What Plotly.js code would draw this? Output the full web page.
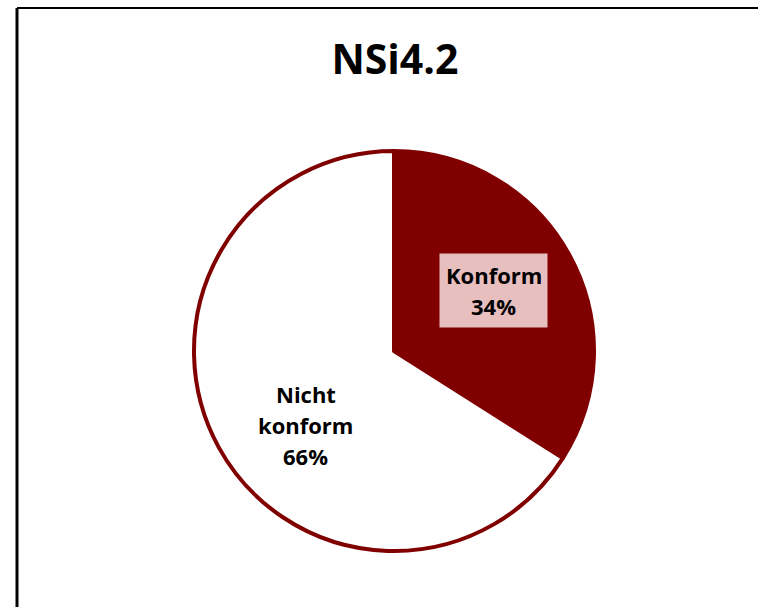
<!DOCTYPE html>
<html>
<head>
<meta charset="utf-8">
<script src="https://cdn.plot.ly/plotly-3.0.1.min.js"></script>
<style>html,body{margin:0;padding:0;background:#fff;}#chart{width:758px;height:607px;}</style>
</head>
<body>
<div id="chart"></div>
<script>
const categories = ['Konform', 'Nicht konform'];
const labelLines = [['Konform'], ['Nicht', 'konform']];
const values = [34, 66];
const sliceColors = ['#800000', '#ffffff'];
const labelBg = ['#e8bfbf', null];
const labelRadius = [0.585, 0.575];
const labelAngleShift = [-2.6, -11];
const chartTitle = 'NSi4.2';

const W = 758, H = 607;
const cx = 394, cy = 351, R = 200;
const lineGap = 31;
const dom = {
  x: [(cx - R) / W, (cx + R) / W],
  y: [(H - cy - R) / H, (H - cy + R) / H]
};

const total = values.reduce((a, b) => a + b, 0);
let cum = 0;
const annotations = [];
values.forEach((v, i) => {
  const mid = ((cum + v / 2) / total * 360 + labelAngleShift[i]) * Math.PI / 180;
  cum += v;
  const r = R * labelRadius[i];
  const px = cx + r * Math.sin(mid);
  const py = cy - r * Math.cos(mid);
  const lines = labelLines[i].concat([Math.round(v / total * 100) + '%']);
  if (labelBg[i]) {
    annotations.push({
      xref: 'paper', yref: 'paper', x: px / W, y: 1 - py / H,
      xanchor: 'center', yanchor: 'middle',
      text: ' ', showarrow: false, width: 107, height: 73, borderpad: 0,
      bgcolor: labelBg[i], font: {size: 10}
    });
  }
  lines.forEach((t, k) => {
    const ly = py + (k - (lines.length - 1) / 2) * lineGap;
    annotations.push({
      xref: 'paper', yref: 'paper', x: px / W, y: 1 - ly / H,
      xanchor: 'center', yanchor: 'middle',
      text: '<b>' + t + '</b>', showarrow: false,
      font: {family: 'Open Sans, sans-serif', size: 22, color: '#000'}
    });
  });
});

const data = [{
  type: 'pie',
  values: values,
  labels: categories,
  sort: false,
  direction: 'clockwise',
  rotation: 0,
  textinfo: 'none',
  hoverinfo: 'none',
  marker: {colors: sliceColors, line: {color: '#800000', width: 4}},
  domain: dom
}];

const layout = {
  width: W, height: H,
  margin: {l: 0, r: 0, t: 0, b: 0},
  paper_bgcolor: '#ffffff',
  showlegend: false,
  title: {
    text: '<b>' + chartTitle + '</b>',
    x: 0.521, xanchor: 'center',
    y: 1 - 60 / H, yanchor: 'middle',
    font: {family: 'Open Sans, sans-serif', size: 41, color: '#000'}
  },
  annotations: annotations,
  shapes: [
    {type: 'line', xref: 'paper', yref: 'paper', x0: 17 / W, x1: 1, y0: 1 - 8 / H, y1: 1 - 8 / H, line: {color: '#000', width: 2}},
    {type: 'line', xref: 'paper', yref: 'paper', x0: 17 / W, x1: 17 / W, y0: 0, y1: 1 - 8 / H, line: {color: '#000', width: 3}}
  ]
};

Plotly.newPlot('chart', data, layout, {staticPlot: true, displayModeBar: false});
</script>
</body>
</html>
